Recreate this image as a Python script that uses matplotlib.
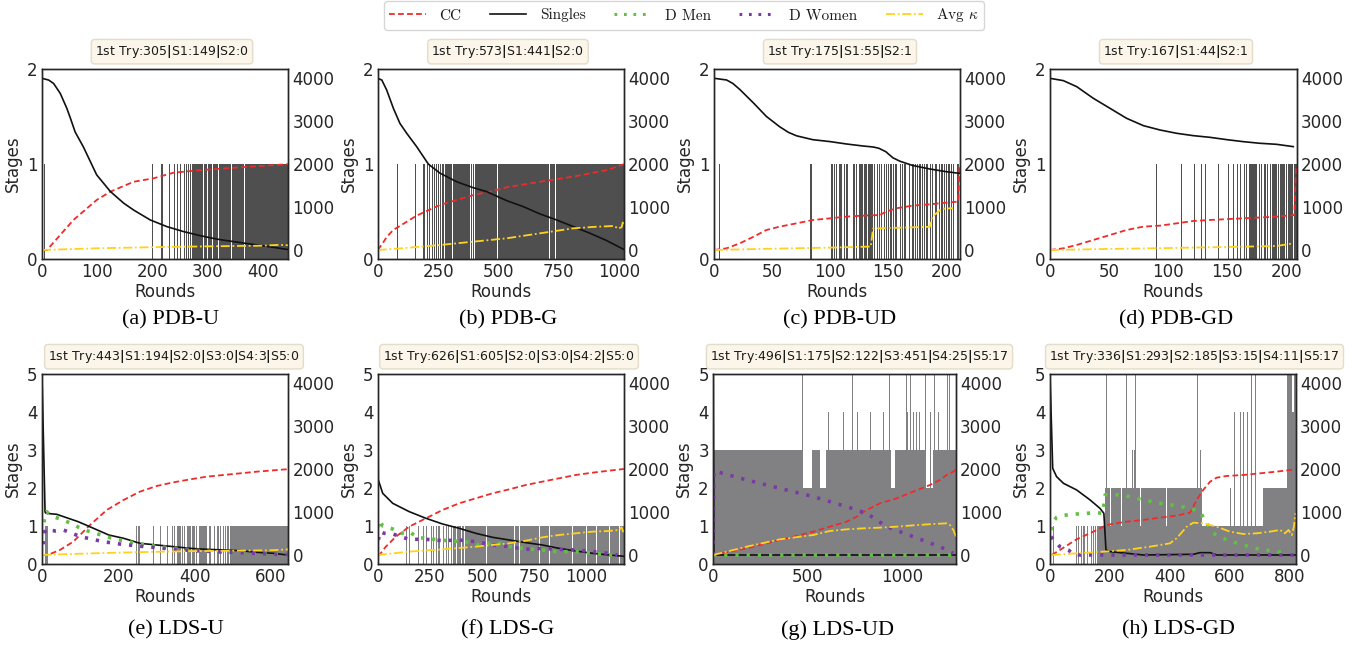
import numpy as np
import matplotlib
matplotlib.use("Agg")
import matplotlib.pyplot as plt
from matplotlib.lines import Line2D

# ---------------------------------------------------------------- data
# curves: (round, value on right axis)
# stage runs: (start_round, end_round, stage) ; later runs override earlier

# (a) PDB-U
PDBU_XMAX = 446
PDBU_XTICKS = [0, 100, 200, 300, 400]
PDBU_TITLE = ["1st Try:305", "S1:149", "S2:0"]
PDBU_SINGLES = [(0, 4000), (12, 3960), (21, 3880), (33, 3650), (45, 3300), (52, 3050), (60, 2750),
                (75, 2400), (99, 1750), (124, 1360), (148, 1090), (166, 930), (196, 700), (226, 545),
                (256, 430), (286, 335), (316, 255), (347, 195), (377, 140), (407, 85), (446, 10)]
PDBU_CC = [(0, 0), (9, 0), (33, 350), (57, 700), (99, 1165), (124, 1360), (166, 1590), (202, 1670),
           (238, 1800), (286, 1860), (347, 1915), (446, 2000)]
PDBU_KAPPA = [(0, 0), (100, 40), (200, 65), (300, 85), (400, 100), (430, 120), (446, 110)]
PDBU_STAGES = [(3, 5, 1), (199, 201, 1), (216, 217, 1), (218, 219, 1), (222, 223, 1), (226, 227, 1),
               (230, 231, 1), (235, 236, 1), (239, 240, 1), (242, 243, 1), (245, 246, 1), (250, 251, 1),
               (255, 256, 1), (258, 259, 1), (261, 262, 1), (265, 266, 1), (268, 269, 1),
               (272, 291, 1), (293, 299, 1), (301, 308, 1), (310, 319, 1), (321, 342, 1),
               (344, 366, 1), (368, 446, 1)]

# (b) PDB-G
PDBG_XMAX = 1020
PDBG_XTICKS = [0, 250, 500, 750, 1000]
PDBG_TITLE = ["1st Try:573", "S1:441", "S2:0"]
PDBG_SINGLES = [(0, 4000), (17, 3960), (37, 3730), (65, 3300), (92, 2950), (120, 2720), (161, 2410),
                (210, 2000), (258, 1790), (327, 1590), (396, 1450), (451, 1360), (534, 1150),
                (603, 1010), (672, 840), (741, 700), (810, 545), (879, 390), (948, 220), (1020, 10)]
PDBG_CC = [(0, 0), (20, 150), (37, 300), (65, 470), (92, 560), (161, 800), (258, 1050), (396, 1280),
           (465, 1360), (534, 1460), (672, 1590), (810, 1710), (948, 1860), (1020, 2000)]
PDBG_KAPPA = [(0, 0), (100, 40), (258, 116), (534, 272), (810, 505), (900, 540), (980, 560),
              (995, 500), (1010, 530), (1015, 640), (1020, 600)]
PDBG_STAGES = [(81, 85, 1), (155, 159, 1), (189, 193, 1), (193, 196, 1), (206, 210, 1), (214, 218, 1),
               (226, 230, 1), (235, 239, 1), (241, 245, 1), (251, 255, 1), (258, 262, 1),
               (266, 1020, 1), (275, 279, 0), (306, 310, 0), (382, 386, 0), (392, 396, 0),
               (400, 404, 0), (493, 497, 0), (709, 713, 0), (734, 738, 0)]

# (c) PDB-UD
PDBUD_XMAX = 212
PDBUD_XTICKS = [0, 50, 100, 150, 200]
PDBUD_TITLE = ["1st Try:175", "S1:55", "S2:1"]
PDBUD_SINGLES = [(0, 4000), (10.6, 3961), (16, 3880), (22, 3740), (34, 3420), (45, 3110), (56.5, 2870),
                 (64, 2740), (71, 2660), (85, 2570), (100, 2525), (114, 2470), (128, 2424), (137, 2400),
                 (142, 2370), (148, 2290), (154, 2150), (160, 2070), (171, 1970), (186, 1887),
                 (200, 1825), (211.5, 1786)]
PDBUD_CC = [(0, 0), (10.6, 39), (22, 155), (34, 311), (45, 466), (56.5, 544), (71, 621), (85, 699),
            (100, 738), (114, 777), (128, 800), (143, 815), (148, 893), (157, 971), (171, 1033),
            (186, 1064), (200, 1103), (210.5, 1126), (211.5, 1980)]
PDBUD_KAPPA = [(0, 0), (40, 25), (100, 55), (135, 80), (137, 500), (160, 520), (186, 540),
               (188, 770), (196, 960), (206, 975)]
PDBUD_STAGES = [(4, 5, 1), (83, 84, 1), (101, 102, 1), (103, 104, 1), (105, 106, 1), (108, 110, 1),
                (112, 113, 1), (114, 115, 1), (120, 121, 1), (122, 123, 1), (125, 128, 1),
                (129, 132, 1), (133, 137, 1), (138, 139, 1), (140, 141, 1), (142, 143, 1),
                (144, 145, 1), (146, 147, 1), (148, 149, 1), (150, 151, 1), (152, 153, 1),
                (154, 155, 1), (156, 158, 1), (160, 161, 1), (162, 163, 1), (164, 165, 1),
                (168, 169, 1), (171, 172, 1), (173, 174, 1), (175, 176, 1), (177, 178, 1),
                (179, 180, 1), (181, 182, 1), (183, 184, 1), (186, 187, 1), (188, 189, 1),
                (190, 192, 1), (194, 195, 1), (196, 197, 1), (198, 199, 1), (200, 201, 1),
                (202, 203, 1), (204, 205, 1), (206, 207, 1), (209, 211, 1)]

# (d) PDB-GD
PDBGD_XMAX = 209
PDBGD_XTICKS = [0, 50, 100, 150, 200]
PDBGD_TITLE = ["1st Try:167", "S1:44", "S2:1"]
PDBGD_SINGLES = [(0, 4000), (11.3, 3946), (22.6, 3806), (36.7, 3534), (50.8, 3301), (64.9, 3068),
                 (79.1, 2897), (93.2, 2796), (107.3, 2719), (121.4, 2664), (135.5, 2625),
                 (149.7, 2571), (163.8, 2524), (177.9, 2486), (192, 2462), (206.1, 2408)]
PDBGD_CC = [(0, 0), (11.3, 39), (22.6, 117), (36.7, 233), (50.8, 349), (64.9, 466), (79.1, 544),
            (93.2, 567), (107.3, 621), (121.4, 676), (135.5, 699), (163.8, 738), (192, 777),
            (207, 815), (208.5, 1980)]
PDBGD_KAPPA = [(0, 0), (50, 25), (100, 45), (150, 70), (192, 93), (206, 155)]
PDBGD_STAGES = [(90, 91, 1), (111, 112, 1), (122, 123, 1), (128, 129, 1), (131, 132, 1),
                (142, 143, 1), (151, 152, 1), (155, 156, 1), (158, 159, 1), (161, 162, 1),
                (164, 165, 1), (166, 167, 1), (169, 175, 1), (177, 178, 1), (179, 180, 1),
                (181, 183, 1), (184, 185, 1), (186, 187, 1), (188, 192, 1), (193, 194, 1),
                (195, 199, 1), (200, 201, 1), (202, 206, 1), (207, 209, 1)]

# (e) LDS-U
LDSU_XMAX = 646
LDSU_XTICKS = [0, 200, 400, 600]
LDSU_TITLE = ["1st Try:443", "S1:194", "S2:0", "S3:0", "S4:3", "S5:0"]
LDSU_SINGLES = [(0, 4200), (8, 1000), (10.5, 971), (38.5, 948), (95, 776), (135, 622), (175, 466),
                (214, 389), (257, 272), (301, 233), (345, 194), (389, 155), (432, 132), (476, 117),
                (520, 101), (564, 62), (607, 39), (643, 0)]
LDSU_CC = [(0, 0), (15, 0), (47, 117), (82, 310), (126, 699), (170, 1049), (214, 1282), (257, 1476),
           (301, 1608), (345, 1693), (389, 1763), (432, 1825), (476, 1864), (520, 1903),
           (564, 1942), (646, 2000)]
LDSU_DMEN = [(2, 500), (8, 950), (12, 1010), (25, 900), (45, 850), (70, 760), (95, 650), (120, 560),
             (150, 480), (180, 400), (214, 330), (257, 260), (301, 200), (345, 160), (389, 120),
             (432, 90), (476, 70), (520, 50), (564, 35), (607, 20), (646, 10)]
LDSU_DWOMEN = [(3, 250), (6, 500), (10, 600), (20, 580), (35, 560), (57, 580), (79, 505), (100, 430),
               (140, 350), (161, 310), (200, 260), (250, 210), (300, 170), (350, 130), (400, 100),
               (450, 80), (500, 60), (550, 40), (600, 20), (646, 10)]
LDSU_KAPPA = [(0, 0), (100, 30), (200, 55), (300, 75), (400, 90), (500, 100), (600, 110), (646, 130)]
LDSU_STAGES = [(7, 17, 1), (246, 249, 1), (253, 256, 1), (291, 294, 1), (310, 313, 1), (327, 330, 1),
               (341, 344, 1), (347, 350, 1), (354, 357, 1), (358, 361, 1), (362, 365, 1),
               (367, 370, 1), (373, 376, 1), (380, 390, 1), (393, 396, 1), (397, 400, 1),
               (404, 407, 1), (411, 414, 1), (415, 433, 1), (437, 440, 1), (441, 444, 1),
               (450, 455, 1), (459, 464, 1), (467, 470, 1), (474, 477, 1), (480, 483, 1),
               (485, 490, 1), (494, 646, 1)]

# (f) LDS-G
LDSG_XMAX = 1180
LDSG_XTICKS = [0, 250, 500, 750, 1000]
LDSG_TITLE = ["1st Try:626", "S1:605", "S2:0", "S3:0", "S4:2", "S5:0"]
LDSG_SINGLES = [(0, 4200), (3, 1747), (24, 1437), (72, 1204), (151, 1010), (231, 855), (311, 722),
                (390, 622), (470, 505), (550, 412), (630, 350), (710, 287), (789, 233), (869, 155),
                (949, 93), (1029, 39), (1109, 0), (1180, -30)]
LDSG_CC = [(0, 0), (8, 0), (39, 194), (87, 427), (151, 660), (231, 855), (311, 1049), (390, 1204),
           (470, 1320), (550, 1437), (630, 1530), (710, 1631), (789, 1709), (869, 1787),
           (949, 1864), (1029, 1918), (1109, 1965), (1180, 2004)]
LDSG_DMEN = [(3, 650), (8, 816), (24, 676), (72, 606), (111, 505), (151, 544), (192, 404), (231, 389),
             (271, 365), (311, 349), (359, 311), (407, 334), (471, 233), (535, 272), (566, 300),
             (630, 194), (694, 155), (742, 132), (789, 117), (853, 78), (950, 78), (1029, 39),
             (1109, 0), (1140, 0)]
LDSG_DWOMEN = [(3, 350), (11, 544), (31, 505), (72, 489), (120, 412), (151, 365), (231, 365),
               (311, 334), (390, 349), (471, 311), (550, 233), (630, 194), (710, 132), (789, 155),
               (869, 132), (950, 117), (1029, 78), (1109, 39), (1148, 0)]
LDSG_KAPPA = [(0, 0), (151, 78), (311, 132), (471, 194), (630, 272), (710, 334), (789, 412),
              (869, 466), (950, 505), (1029, 544), (1109, 560), (1156, 583), (1168, 645),
              (1176, 544), (1180, 600)]
LDSG_STAGES = [(136, 141, 1), (151, 156, 1), (192, 197, 1), (215, 220, 1), (231, 236, 1),
               (256, 261, 1), (263, 268, 1), (279, 284, 1), (287, 292, 1), (295, 300, 1),
               (311, 316, 1), (327, 332, 1), (335, 340, 1), (351, 356, 1), (359, 1180, 1),
               (375, 379, 0), (399, 403, 0), (415, 419, 0), (519, 523, 0), (655, 659, 0),
               (678, 682, 0), (774, 778, 0), (822, 826, 0), (838, 842, 0), (933, 937, 0),
               (997, 1001, 0), (1045, 1049, 0), (1109, 1113, 0), (1156, 1160, 0)]

# (g) LDS-UD
LDSUD_XMAX = 1288
LDSUD_XTICKS = [0, 500, 1000]
LDSUD_TITLE = ["1st Try:496", "S1:175", "S2:122", "S3:451", "S4:25", "S5:17"]
LDSUD_SINGLES = [(0, 4200), (3, 0), (1288, 0)]
LDSUD_CC = [(0, 0), (177, 155), (354, 349), (531, 544), (708, 777), (761, 893), (814, 1049),
            (885, 1204), (973, 1320), (1061, 1476), (1150, 1631), (1203, 1748), (1238, 1864),
            (1274, 1942), (1288, 2000)]
LDSUD_DMEN = [(0, 0), (1288, 0)]
LDSUD_DWOMEN = [(0, 0), (3, 1950), (18, 1942), (177, 1748), (354, 1553), (531, 1359), (708, 1126),
                (814, 971), (920, 660), (1061, 427), (1203, 194), (1274, 39)]
LDSUD_KAPPA = [(0, 0), (177, 194), (354, 365), (531, 466), (619, 559), (708, 598), (796, 621),
               (885, 637), (973, 660), (1061, 691), (1167, 722), (1238, 738), (1256, 699),
               (1274, 583), (1288, 427)]
LDSUD_STAGES = [(0, 1288, 3), (394, 399, 5), (472, 477, 5), (478, 522, 2), (566, 596, 2),
                (610, 615, 4), (686, 691, 4), (734, 739, 5), (739, 743, 1), (761, 766, 4),
                (831, 836, 4), (899, 904, 4), (934, 939, 5), (941, 964, 2), (999, 1004, 4),
                (1021, 1026, 5), (1026, 1031, 4), (1044, 1049, 5), (1061, 1066, 4),
                (1076, 1081, 4), (1093, 1098, 4), (1123, 1128, 5), (1128, 1168, 2),
                (1150, 1155, 4), (1171, 1176, 5), (1194, 1199, 4), (1238, 1243, 5),
                (1252, 1257, 5)]

# (h) LDS-GD
LDSGD_XMAX = 822
LDSGD_XTICKS = [0, 200, 400, 600, 800]
LDSGD_TITLE = ["1st Try:336", "S1:293", "S2:185", "S3:15", "S4:11", "S5:17"]
LDSGD_SINGLES = [(0, 4210), (9, 2019), (22, 1825), (45, 1670), (89, 1515), (134, 1282), (167, 1087),
                 (180, 971), (187, 117), (201, 78), (312, 0), (479, 16), (501, 54), (535, 54),
                 (557, 0), (822, 0)]
LDSGD_CC = [(6, 0), (33, 117), (89, 365), (145, 544), (178, 660), (201, 715), (256, 777), (312, 816),
            (367, 870), (423, 917), (468, 986), (490, 1282), (512, 1515), (535, 1709), (557, 1802),
            (590, 1841), (646, 1864), (702, 1903), (757, 1942), (822, 1996)]
LDSGD_DMEN = [(3, 583), (11, 777), (22, 878), (33, 909), (56, 932), (89, 955), (123, 971), (156, 986),
              (176, 971), (184, 1398), (201, 1414), (234, 1398), (267, 1359), (312, 1282),
              (367, 1204), (423, 1150), (468, 1087), (501, 1010), (524, 738), (546, 505), (590, 349),
              (646, 233), (702, 132), (757, 78), (791, 39)]
LDSGD_DWOMEN = [(3, 427), (17, 311), (33, 194), (61, 117), (78, 16), (100, 0), (822, 0)]
LDSGD_KAPPA = [(6, 0), (89, 39), (178, 78), (256, 117), (334, 194), (401, 272), (423, 388),
               (457, 660), (479, 753), (512, 738), (557, 660), (601, 544), (646, 489), (690, 505),
               (735, 544), (769, 583), (785, 505), (797, 583), (808, 466), (815, 660), (820, 971)]
LDSGD_STAGES = [(11, 14, 1), (87, 90, 1), (95, 98, 1), (104, 107, 1), (109, 112, 1), (114, 117, 1),
                (125, 128, 1), (132, 135, 1), (137, 140, 1), (143, 146, 1), (150, 153, 1),
                (158, 161, 1), (162, 184, 1), (184, 507, 2), (187, 190, 5), (200, 203, 1),
                (236, 239, 1), (253, 256, 5), (273, 276, 3), (280, 283, 3), (283, 286, 5),
                (300, 303, 1), (389, 392, 1), (443, 446, 5), (492, 495, 5), (501, 504, 3),
                (510, 513, 3), (507, 822, 1), (590, 593, 2), (601, 604, 2), (615, 618, 4),
                (635, 638, 4), (646, 649, 4), (657, 660, 4), (671, 674, 5), (685, 688, 5),
                (713, 791, 2), (791, 808, 5), (808, 815, 4), (815, 822, 5)]

CAPTIONS = ["(a) PDB-U", "(b) PDB-G", "(c) PDB-UD", "(d) PDB-GD",
            "(e) LDS-U", "(f) LDS-G", "(g) LDS-UD", "(h) LDS-GD"]
LEGEND_LABELS = ["CC", "Singles", "D Men", "D Women", r"Avg $\kappa$"]
RIGHT_TICKS = [0, 1000, 2000, 3000, 4000]

# ---------------------------------------------------------------- layout / style
W, H = 1354, 646
C_CC, C_SING, C_MEN, C_WOMEN, C_K = "#ee2b2b", "#111111", "#62c043", "#7a3aa6", "#ffd21f"
LS_CC = (0, (3.2, 1.8))
LS_DOT = (0, (0.9, 2.2))
LS_K = (0, (5, 1.5, 1, 1.5))

panels = [
    dict(n=PDBU_XMAX, xt=PDBU_XTICKS, title=PDBU_TITLE, sing=PDBU_SINGLES, cc=PDBU_CC, men=None,
         women=None, k=PDBU_KAPPA, st=PDBU_STAGES, left=42, top=69.3, w=246.3, smax=2, bc="#4f4f4f",
         tx=172, cx=171),
    dict(n=PDBG_XMAX, xt=PDBG_XTICKS, title=PDBG_TITLE, sing=PDBG_SINGLES, cc=PDBG_CC, men=None,
         women=None, k=PDBG_KAPPA, st=PDBG_STAGES, left=377.7, top=69.3, w=246.3, smax=2, bc="#4f4f4f",
         tx=508, cx=508),
    dict(n=PDBUD_XMAX, xt=PDBUD_XTICKS, title=PDBUD_TITLE, sing=PDBUD_SINGLES, cc=PDBUD_CC, men=None,
         women=None, k=PDBUD_KAPPA, st=PDBUD_STAGES, left=714.3, top=69.3, w=245.7, smax=2,
         bc="#4f4f4f", tx=840, cx=840),
    dict(n=PDBGD_XMAX, xt=PDBGD_XTICKS, title=PDBGD_TITLE, sing=PDBGD_SINGLES, cc=PDBGD_CC, men=None,
         women=None, k=PDBGD_KAPPA, st=PDBGD_STAGES, left=1050, top=69.3, w=246.7, smax=2,
         bc="#4f4f4f", tx=1176, cx=1176),
    dict(n=LDSU_XMAX, xt=LDSU_XTICKS, title=LDSU_TITLE, sing=LDSU_SINGLES, cc=LDSU_CC, men=LDSU_DMEN,
         women=LDSU_DWOMEN, k=LDSU_KAPPA, st=LDSU_STAGES, left=42, top=374.3, w=246.3, smax=5,
         bc="#818184", tx=174, cx=176),
    dict(n=LDSG_XMAX, xt=LDSG_XTICKS, title=LDSG_TITLE, sing=LDSG_SINGLES, cc=LDSG_CC, men=LDSG_DMEN,
         women=LDSG_DWOMEN, k=LDSG_KAPPA, st=LDSG_STAGES, left=377.7, top=374.3, w=246.3, smax=5,
         bc="#818184", tx=509, cx=508),
    dict(n=LDSUD_XMAX, xt=LDSUD_XTICKS, title=LDSUD_TITLE, sing=LDSUD_SINGLES, cc=LDSUD_CC,
         men=LDSUD_DMEN, women=LDSUD_DWOMEN, k=LDSUD_KAPPA, st=LDSUD_STAGES, left=713.3, top=374.3,
         w=242.7, smax=5, bc="#818184", tx=859.5, cx=837),
    dict(n=LDSGD_XMAX, xt=LDSGD_XTICKS, title=LDSGD_TITLE, sing=LDSGD_SINGLES, cc=LDSGD_CC,
         men=LDSGD_DMEN, women=LDSGD_DWOMEN, k=LDSGD_KAPPA, st=LDSGD_STAGES, left=1050, top=374.3,
         w=246, smax=5, bc="#818184", tx=1194.5, cx=1178),
]
AX_H = 189.7
FS = 12

plt.rcParams.update({
    "font.family": "DejaVu Sans",
    "axes.edgecolor": "0.15", "axes.labelcolor": "0.15", "text.color": "0.15",
    "xtick.color": "0.15", "ytick.color": "0.15", "axes.linewidth": 1.0,
})

fig = plt.figure(figsize=(W / 100, H / 100), dpi=100)


def xy(pts):
    a = np.asarray(pts, dtype=float)
    return a[:, 0], a[:, 1]


for i, p in enumerate(panels):
    rect = [p["left"] / W, 1 - (p["top"] + AX_H) / H, p["w"] / W, AX_H / H]
    ax = fig.add_axes(rect)
    stage = np.zeros(int(np.ceil(p["n"])) + 1)
    for s, e, v in p["st"]:
        stage[int(s):int(e)] = v
    change = np.flatnonzero(np.diff(np.r_[-1, stage, -1]) != 0)
    for s, e in zip(change[:-1], change[1:]):
        if stage[s] > 0:
            ax.bar(s, stage[s], width=e - s, align="edge", color=p["bc"], linewidth=0)
    ax.set_xlim(0, p["n"])
    ax.set_xticks(p["xt"])
    ax.set_ylim(0, p["smax"])
    ax.set_yticks(list(range(p["smax"] + 1)))
    ax.set_ylabel("Stages", fontsize=FS, labelpad=3.5)
    ax.set_xlabel("Rounds", fontsize=FS, labelpad=1.0)
    ax.tick_params(length=0, pad=3.2, labelsize=FS)

    ax2 = ax.twinx()
    ax2.set_ylim(-210, 4210)
    ax2.set_yticks(RIGHT_TICKS)
    ax2.tick_params(length=0, pad=3, labelsize=FS)
    ax2.set_xlim(0, p["n"])
    ax2.plot(*xy(p["cc"]), color=C_CC, ls=LS_CC, lw=1.3)
    ax2.plot(*xy(p["sing"]), color=C_SING, ls="-", lw=1.2)
    if p["men"] is not None:
        ax2.plot(*xy(p["men"]), color=C_MEN, ls=LS_DOT, lw=2.6)
        ax2.plot(*xy(p["women"]), color=C_WOMEN, ls=LS_DOT, lw=2.6)
    ax2.plot(*xy(p["k"]), color=C_K, ls=LS_K, lw=1.3)

    title = r"$\mathbf{|}$".join(p["title"])
    ty = 51.7 if p["top"] < 100 else 356.7
    fig.text(p["tx"] / W, 1 - ty / H, title, ha="center", va="center", fontsize=9, color="0.1",
             bbox=dict(boxstyle="round,pad=0.3", facecolor="#fbf6e9", edgecolor="#e3dccb", lw=1))
    cy = 320 if p["top"] < 100 else 630
    fig.text(p["cx"] / W, 1 - cy / H, CAPTIONS[i], ha="center", va="center",
             family="Liberation Serif", fontsize=16, color="black")

handles = [Line2D([], [], color=C_CC, ls=LS_CC, lw=1.3),
           Line2D([], [], color=C_SING, ls="-", lw=1.2),
           Line2D([], [], color=C_MEN, ls=LS_DOT, lw=2.2),
           Line2D([], [], color=C_WOMEN, ls=LS_DOT, lw=2.2),
           Line2D([], [], color=C_K, ls=LS_K, lw=1.3)]
leg = fig.legend(handles, LEGEND_LABELS, loc="center", bbox_to_anchor=(684 / W, 1 - 15.5 / H),
                 ncol=5, frameon=True, fancybox=True, edgecolor="0.8",
                 prop=dict(family="cmr10", size=11), handlelength=2.4, columnspacing=1.85,
                 handletextpad=0.9, borderpad=0.35)
for t in leg.get_texts():
    t.set_math_fontfamily("cm")
    t.set_color("0.1")

fig.savefig("out.png", dpi=100)
